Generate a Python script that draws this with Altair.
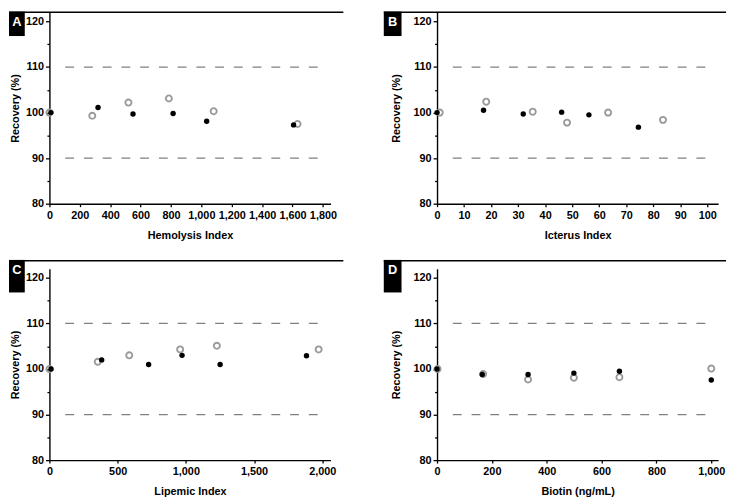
import altair as alt
import pandas as pd

# ---- data ----
hem_x_solid = [10, 320, 550, 814, 1035, 1607]
hem_y_solid = [100, 101.1, 99.7, 99.8, 98.1, 97.3]
hem_x_open = [0, 282, 520, 786, 1081, 1633]
hem_y_open = [100, 99.3, 102.2, 103.1, 100.3, 97.5]

ict_x_solid = [0, 17.2, 31.9, 46.1, 56.2, 74.5]
ict_y_solid = [100, 100.5, 99.7, 100.1, 99.5, 96.8]
ict_x_open = [1.0, 18.2, 35.4, 48.1, 63.3, 83.6]
ict_y_open = [100, 102.4, 100.2, 97.8, 100.0, 98.4]

lip_x_solid = [12, 383, 727, 972, 1251, 1884]
lip_y_solid = [100, 102.0, 101.0, 103.0, 101.0, 102.9]
lip_x_open = [0, 354, 585, 958, 1227, 1973]
lip_y_open = [100, 101.6, 103.0, 104.3, 105.1, 104.3]

bio_x_solid = [0, 165, 332, 499, 665, 1000]
bio_y_solid = [100, 98.8, 98.8, 99.1, 99.5, 97.6]
bio_x_open = [2, 168, 332, 499, 665, 1000]
bio_y_open = [100, 98.9, 97.7, 98.1, 98.2, 100.1]

limits = [90, 110]
y_ticks = [80, 85, 90, 95, 100, 105, 110, 115, 120]

W, H = 285, 194
FONT = "Liberation Sans"


def panel(xs, ys, xo, yo, xmax, xticks, xtitle, letter, left_col, top_row):
    solid = pd.DataFrame({"x": xs, "y": ys})
    opn = pd.DataFrame({"x": xo, "y": yo})
    xscale = alt.Scale(domain=[0, xmax], nice=False, zero=False)
    yscale = alt.Scale(domain=[80, 122], nice=False, zero=False)
    xaxis = alt.Axis(values=xticks, format=",.0f", title=xtitle, tickSize=3,
                     labelPadding=3, titlePadding=9, labelFlush=False, labelOverlap=False)
    yaxis = alt.Axis(values=y_ticks, title="Recovery (%)", format=".0f",
                     labelExpr="datum.value % 10 === 0 ? datum.label : ''",
                     tickSize={"condition": {"test": "datum.value % 10 !== 0", "value": 2.5}, "value": 4},
                     labelPadding=2, labelOverlap=False, titlePadding=5 if left_col else 12)

    lines = alt.Chart(pd.DataFrame({"limit": limits})).mark_rule(
        strokeDash=[9, 10], color="#808080", strokeWidth=1.3
    ).encode(y=alt.Y("limit:Q", scale=yscale, axis=yaxis), x=alt.value(16), x2=alt.value(281))

    p_open = alt.Chart(opn).mark_point(
        shape="circle", filled=False, color="#9a9a9a", size=38, strokeWidth=1.9, opacity=1
    ).encode(x=alt.X("x:Q", scale=xscale, axis=xaxis), y=alt.Y("y:Q", scale=yscale, axis=yaxis))

    p_solid = alt.Chart(solid).mark_circle(color="black", size=30, opacity=1).encode(
        x=alt.X("x:Q", scale=xscale, axis=xaxis), y=alt.Y("y:Q", scale=yscale, axis=yaxis))

    lab = pd.DataFrame({"label": [letter]})
    ytop = -0.75 if top_row else -9
    if left_col:
        bx0, bx1, lx0, lx1 = -41, -25, -41, 298
    else:
        bx0, bx1, lx0, lx1 = -54, -36, -54, 293
    topline = alt.Chart(lab).mark_rule(color="black", strokeWidth=1.5).encode(
        x=alt.value(lx0), x2=alt.value(lx1), y=alt.value(ytop + 0.75))
    box = alt.Chart(lab).mark_rect(color="black").encode(
        x=alt.value(bx0), x2=alt.value(bx1), y=alt.value(ytop), y2=alt.value(24))
    txt = alt.Chart(lab).mark_text(
        color="white", font=FONT, fontWeight="bold", fontSize=13, align="center", baseline="alphabetic"
    ).encode(text="label:N", x=alt.value((bx0 + bx1) / 2), y=alt.value(ytop + 14.5))

    return alt.layer(lines, p_open, p_solid, topline, box, txt).properties(width=W, height=H)


A = panel(hem_x_solid, hem_y_solid, hem_x_open, hem_y_open, 1850,
          list(range(0, 1801, 200)), "Hemolysis Index", "A", True, True)
B = panel(ict_x_solid, ict_y_solid, ict_x_open, ict_y_open, 104,
          list(range(0, 101, 10)), "Icterus Index", "B", False, True)
C = panel(lip_x_solid, lip_y_solid, lip_x_open, lip_y_open, 2060,
          [0, 500, 1000, 1500, 2000], "Lipemic Index", "C", True, False)
D = panel(bio_x_solid, bio_y_solid, bio_x_open, bio_y_open, 1025,
          [0, 200, 400, 600, 800, 1000], "Biotin (ng/mL)", "D", False, False)

chart = alt.concat(A, B, C, D, columns=2, spacing={"row": 66, "column": 108}, bounds="flush").properties(
    padding=0
).configure_view(stroke=None).configure_axis(
    grid=False, domainColor="black", domainWidth=1.4, tickColor="black", tickWidth=1.3,
    labelFont=FONT, labelFontWeight="bold", labelFontSize=11, labelColor="black",
    titleFont=FONT, titleFontWeight="bold", titleFontSize=11, titleColor="black"
)

chart.save("out.html", embed_options={"renderer": "svg", "actions": False})
